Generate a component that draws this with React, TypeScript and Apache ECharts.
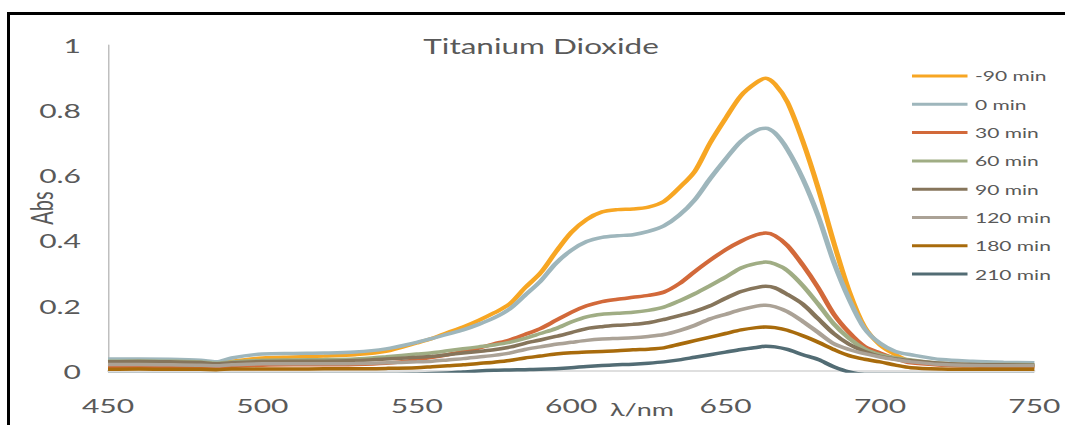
import React, { useEffect, useRef } from "react";
import * as echarts from "echarts";

// wavelength (nm)
const WAVELENGTHS = [
  450, 460, 470, 480, 485, 490, 500, 510, 520, 530, 540, 550, 555, 560, 565, 570, 575, 580, 585, 590, 595, 600,
  605, 610, 615, 620, 625, 630, 635, 640, 645, 650, 655, 660, 663, 666, 670, 675, 680, 685, 690, 695, 700, 705,
  710, 720, 730, 740, 750,
];

const SERIES_NAMES = ["-90 min", "0 min", "30 min", "60 min", "90 min", "120 min", "180 min", "210 min"];
const SERIES_COLORS = ["#F7A623", "#9EB6BC", "#D2693A", "#A0AD84", "#86755B", "#ABA296", "#A86B0C", "#526C74"];

const ABS_M90 = [
  0.03, 0.03, 0.029, 0.027, 0.022, 0.03, 0.04, 0.043, 0.046, 0.05, 0.06, 0.086, 0.1, 0.118, 0.135, 0.155, 0.178,
  0.205, 0.255, 0.3, 0.365, 0.425, 0.465, 0.488, 0.495, 0.497, 0.503, 0.52, 0.562, 0.612, 0.7, 0.775, 0.845, 0.885,
  0.898, 0.88, 0.825, 0.705, 0.56, 0.395, 0.245, 0.135, 0.08, 0.05, 0.03, 0.02, 0.018, 0.016, 0.015,
];
const ABS_0 = [
  0.037, 0.037, 0.036, 0.033, 0.028, 0.04, 0.052, 0.054, 0.055, 0.058, 0.068, 0.088, 0.1, 0.113, 0.126, 0.143,
  0.163, 0.19, 0.232, 0.275, 0.33, 0.37, 0.397, 0.41, 0.415, 0.418, 0.428, 0.445, 0.478, 0.525, 0.59, 0.65, 0.705,
  0.738, 0.745, 0.73, 0.68, 0.59, 0.475, 0.335, 0.22, 0.13, 0.085, 0.06, 0.05, 0.035, 0.03, 0.027, 0.025,
];
const ABS_30 = [
  0.013, 0.014, 0.013, 0.012, 0.01, 0.014, 0.018, 0.019, 0.019, 0.02, 0.024, 0.034, 0.042, 0.05, 0.06, 0.07, 0.083,
  0.095, 0.112, 0.13, 0.155, 0.18, 0.2, 0.213, 0.22, 0.226, 0.232, 0.242, 0.268, 0.305, 0.34, 0.372, 0.398, 0.418,
  0.423, 0.415, 0.385, 0.325, 0.255, 0.175, 0.118, 0.075, 0.055, 0.038, 0.025, 0.018, 0.015, 0.014, 0.013,
];
const ABS_60 = [
  0.03, 0.031, 0.03, 0.028, 0.024, 0.028, 0.033, 0.034, 0.035, 0.037, 0.044, 0.052, 0.056, 0.062, 0.068, 0.074, 0.08,
  0.088, 0.1, 0.115, 0.13, 0.15, 0.166, 0.174, 0.177, 0.18, 0.186, 0.196, 0.215, 0.237, 0.262, 0.288, 0.316, 0.33,
  0.334, 0.328, 0.308, 0.262, 0.205, 0.145, 0.1, 0.068, 0.05, 0.04, 0.034, 0.024, 0.02, 0.02, 0.019,
];
const ABS_90 = [
  0.028, 0.029, 0.028, 0.026, 0.022, 0.025, 0.029, 0.03, 0.03, 0.032, 0.037, 0.042, 0.045, 0.05, 0.055, 0.06, 0.065,
  0.073, 0.085, 0.095, 0.106, 0.118, 0.13, 0.136, 0.14, 0.143, 0.148, 0.158, 0.17, 0.183, 0.2, 0.223, 0.244, 0.256,
  0.26, 0.255, 0.235, 0.205, 0.16, 0.115, 0.082, 0.06, 0.045, 0.037, 0.032, 0.024, 0.02, 0.019, 0.018,
];
const ABS_120 = [
  0.02, 0.02, 0.019, 0.018, 0.016, 0.019, 0.022, 0.022, 0.022, 0.023, 0.025, 0.028, 0.03, 0.034, 0.038, 0.043, 0.048,
  0.055, 0.066, 0.074, 0.082, 0.088, 0.094, 0.098, 0.1, 0.102, 0.106, 0.112, 0.124, 0.14, 0.16, 0.174, 0.188, 0.199,
  0.202, 0.197, 0.182, 0.152, 0.118, 0.084, 0.066, 0.053, 0.043, 0.035, 0.028, 0.02, 0.017, 0.016, 0.016,
];
const ABS_180 = [
  0.005, 0.006, 0.005, 0.005, 0.004, 0.006, 0.006, 0.006, 0.007, 0.007, 0.008, 0.01, 0.013, 0.016, 0.019, 0.023,
  0.027, 0.032, 0.04, 0.046, 0.052, 0.056, 0.058, 0.06, 0.062, 0.065, 0.067, 0.071, 0.082, 0.093, 0.104, 0.115, 0.126,
  0.133, 0.135, 0.133, 0.125, 0.108, 0.088, 0.066, 0.047, 0.036, 0.028, 0.018, 0.01, 0.006, 0.005, 0.005, 0.005,
];
const ABS_210 = [
  -0.01, -0.01, -0.01, -0.01, -0.01, -0.01, -0.01, -0.01, -0.01, -0.01, -0.01, -0.009, -0.008, -0.006, -0.003, 0.0,
  0.002, 0.003, 0.004, 0.005, 0.007, 0.01, 0.014, 0.017, 0.019, 0.021, 0.024, 0.028, 0.034, 0.042, 0.05, 0.058,
  0.066, 0.072, 0.076, 0.074, 0.066, 0.05, 0.035, 0.013, -0.003, -0.01, -0.01, -0.01, -0.01, -0.01, -0.01, -0.01,
  -0.01,
];

const SERIES_VALUES = [ABS_M90, ABS_0, ABS_30, ABS_60, ABS_90, ABS_120, ABS_180, ABS_210];

const Y_TICKS = [0, 0.2, 0.4, 0.6, 0.8, 1];
const TITLE = "Titanium Dioxide";
const X_NAME = "λ/nm";
const Y_NAME = "Abs";

const FONT = "Lato, 'Open Sans', sans-serif";
const TEXT_COLOR = "#595959";
const STRETCH = 1.5;

export default function App() {
  const ref = useRef<HTMLDivElement>(null);

  useEffect(() => {
    if (!ref.current) return;
    const chart = echarts.init(ref.current, null, { renderer: "svg" });

    const series = SERIES_NAMES.map((name, i) => ({
      name,
      type: "line",
      showSymbol: false,
      symbol: "none",
      smooth: 0.3,
      clip: true,
      data: WAVELENGTHS.map((w, j) => [w, SERIES_VALUES[i][j]]),
      lineStyle: { color: SERIES_COLORS[i], width: 3.5 },
      itemStyle: { color: SERIES_COLORS[i] },
      z: 2 + i,
    }));

    chart.setOption({
      animation: false,
      backgroundColor: "#ffffff",
      grid: { left: 72, right: 20, top: 45, bottom: 54, containLabel: false },
      xAxis: {
        type: "value",
        min: 450,
        max: 750,
        interval: 50,
        axisLine: { show: true, lineStyle: { color: "#d4d4d4", width: 1.5 } },
        axisTick: { show: false },
        splitLine: { show: false },
        axisLabel: { color: TEXT_COLOR, fontSize: 20, fontFamily: FONT, margin: 24 },
      },
      yAxis: {
        type: "value",
        min: Y_TICKS[0],
        max: Y_TICKS[Y_TICKS.length - 1],
        interval: 0.2,
        axisLine: { show: true, lineStyle: { color: "#bfbfbf", width: 1 } },
        axisTick: { show: false },
        splitLine: { show: false },
        axisLabel: {
          color: TEXT_COLOR,
          fontSize: 20,
          fontFamily: FONT,
          margin: 18,
          formatter: (v: number) => String(Math.round(v * 10) / 10),
        },
      },
      legend: {
        orient: "vertical",
        left: 608,
        top: 66,
        padding: 0,
        itemWidth: 37,
        itemHeight: 3,
        itemGap: 8.3,
        icon: "rect",
        data: SERIES_NAMES,
        textStyle: { color: TEXT_COLOR, fontSize: 14, fontFamily: FONT, lineHeight: 20 },
      },
      graphic: [
        {
          type: "text",
          x: 360.7,
          y: 46,
          style: {
            text: TITLE,
            fill: TEXT_COLOR,
            fontSize: 21,
            fontFamily: FONT,
            align: "center",
            verticalAlign: "middle",
          },
        },
        {
          type: "text",
          x: 428,
          y: 409,
          style: {
            text: X_NAME,
            fill: TEXT_COLOR,
            fontSize: 18,
            fontFamily: FONT,
            align: "center",
            verticalAlign: "middle",
          },
        },
        {
          type: "text",
          x: 27.3,
          y: 208,
          rotation: Math.PI / 2,
          style: {
            text: Y_NAME,
            fill: TEXT_COLOR,
            fontSize: 20,
            fontFamily: FONT,
            align: "center",
            verticalAlign: "middle",
          },
        },
      ],
      series,
    });

    return () => chart.dispose();
  }, []);

  return (
    <div
      style={{
        position: "fixed",
        left: 0,
        top: 0,
        width: 1065,
        height: 425,
        overflow: "hidden",
        background: "#ffffff",
      }}
    >
      <div
        ref={ref}
        style={{
          position: "absolute",
          left: 0,
          top: 0,
          width: 1065 / STRETCH,
          height: 425,
          transform: `scaleX(${STRETCH})`,
          transformOrigin: "0 0",
        }}
      />
      <div
        style={{
          position: "absolute",
          left: 7,
          top: 12,
          width: 1200,
          height: 600,
          borderTop: "3px solid #000",
          borderLeft: "3px solid #000",
          pointerEvents: "none",
        }}
      />
    </div>
  );
}
